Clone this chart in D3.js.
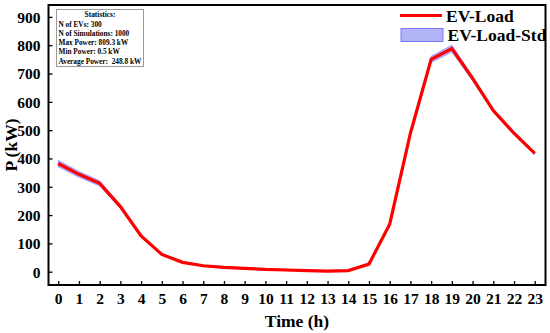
<!DOCTYPE html>
<html><head><meta charset="utf-8">
<script src="https://cdn.jsdelivr.net/npm/d3@7"></script>
<style>
html,body{margin:0;padding:0;background:#fff;}
svg{display:block;}
svg text{font-family:"Liberation Serif","Times New Roman",serif;font-weight:bold;}
</style></head>
<body><svg id="c" width="550" height="333"></svg>
<script>
const hours = [0,1,2,3,4,5,6,7,8,9,10,11,12,13,14,15,16,17,18,19,20,21,22,23];
const evLoad = [382,344,312,230,126,61,33,21,15,12,8,6,4,2,4,27,168,489,750,788,683,569,489,418];
const evStd = [11,10,9,6,4,2,2,2,2,2,2,2,2,2,2,2,4,6,11,12,8,6,5,4];
const yTicks = [0,100,200,300,400,500,600,700,800,900];
const statsLines = ["N of EVs: 300","N of Simulations: 1000","Max Power: 809.3 kW","Min Power: 0.5 kW","Average Power:  248.8 kW"];

const svg = d3.select("#c");
const L=48.5, T=5, R=545.5, B=285;
const x = d3.scaleLinear().domain([-0.47,23.52]).range([L,R]);
const y = d3.scaleLinear().domain([-47,942]).range([B,T]);

const data = hours.map((h,i)=>({h, v:evLoad[i], s:evStd[i]}));

svg.append("path").datum(data)
  .attr("d", d3.area().x(d=>x(d.h)).y0(d=>y(d.v-d.s)).y1(d=>y(d.v+d.s)))
  .attr("fill","#b3b3f7").attr("stroke","#8c8cff").attr("stroke-width",0.8);

svg.append("path").datum(data)
  .attr("d", d3.line().x(d=>x(d.h)).y(d=>y(d.v)))
  .attr("fill","none").attr("stroke","#ff0000").attr("stroke-width",3.2);

const xAxis = d3.axisBottom(x).tickValues(hours).tickSizeInner(-4).tickSizeOuter(0).tickPadding(8);
const gx = svg.append("g").attr("transform",`translate(0,${B})`).call(xAxis);
const yAxis = d3.axisLeft(y).tickValues(yTicks).tickSizeInner(-4).tickSizeOuter(0).tickPadding(8);
const gy = svg.append("g").attr("transform",`translate(${L},0)`).call(yAxis);
[gx,gy].forEach(g=>{
  g.attr("font-family",null).attr("font-size",null);
  g.select(".domain").remove();
  g.selectAll(".tick line").attr("stroke","#000").attr("stroke-width",1.3);
  g.selectAll(".tick text").attr("fill","#000").attr("font-size","15.5px");
});
gy.selectAll(".tick text").attr("dy","0.35em");

svg.append("rect").attr("x",L).attr("y",T).attr("width",R-L).attr("height",B-T)
  .attr("fill","none").attr("stroke","#000").attr("stroke-width",2);

svg.append("text").attr("x",(L+R)/2).attr("y",326.5).attr("text-anchor","middle")
  .attr("font-size","17.5px").text("Time (h)");
svg.append("text").attr("transform","translate(16.5,145) rotate(-90)").attr("text-anchor","middle")
  .attr("font-size","17.5px").text("P (kW)");

const lg = svg.append("g");
lg.append("line").attr("x1",400).attr("x2",442).attr("y1",15.5).attr("y2",15.5)
  .attr("stroke","#ff0000").attr("stroke-width",3.2);
lg.append("text").attr("x",446).attr("y",22).attr("font-size","17.5px").text("EV-Load");
lg.append("rect").attr("x",401).attr("y",28.5).attr("width",42).attr("height",13)
  .attr("fill","#b3b3f7").attr("stroke","#7878ff").attr("stroke-width",1);
lg.append("text").attr("x",447.5).attr("y",40.5).attr("font-size","17.5px").text("EV-Load-Std");

const sb = svg.append("g");
sb.append("rect").attr("x",56.5).attr("y",9.5).attr("width",87).attr("height",57)
  .attr("fill","#fff").attr("stroke","#999").attr("stroke-width",1);
sb.append("text").attr("x",100).attr("y",17).attr("text-anchor","middle").attr("font-size","7.4px").text("Statistics:");
statsLines.forEach((t,i)=>{
  sb.append("text").attr("x",58.5).attr("y",26.7+i*9.25).attr("font-size","7.3px").attr("xml:space","preserve").style("white-space","pre").text(t);
});
</script></body></html>
